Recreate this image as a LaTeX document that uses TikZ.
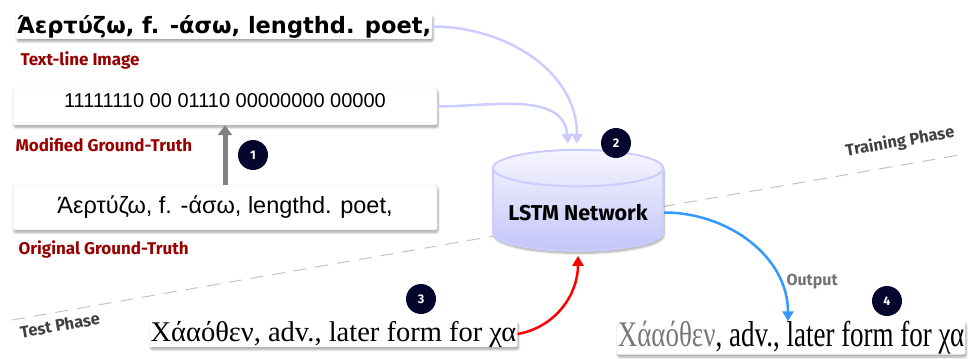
\documentclass[tikz,border=0pt]{standalone}
\usepackage{fontspec}
\setmainfont{Fira Sans}
\newfontfamily\arialfont{Liberation Sans}
\newfontfamily\timesfont{Liberation Serif}
\newfontfamily\scanfont{DejaVu Sans}
\usetikzlibrary{arrows.meta, shapes.geometric, positioning, calc, shadows.blur}

\definecolor{gtred}     {RGB}{153, 0,   0}
\definecolor{lavender}  {RGB}{204, 204, 255}
\definecolor{lstmtop}   {RGB}{246, 246, 255}
\definecolor{lstmbottom}{RGB}{196, 196, 248}
\definecolor{badgenavy} {RGB}{5,   5,   45}
\definecolor{outblue}   {RGB}{51,  153, 255}
\definecolor{phasegray} {RGB}{64,  64,  64}
\definecolor{linegray}  {RGB}{195, 195, 195}
\definecolor{scangray}  {RGB}{120, 120, 120}

\tikzset{
	softshadow/.style={blur shadow={shadow xshift=1pt, shadow yshift=-2.5pt, shadow blur steps=6, shadow opacity=35}},
	gtbox/.style={draw=black!15, fill=white, rounded corners=2pt, minimum width=424pt, softshadow},
	imgbox/.style={fill=white, rounded corners=2pt, inner sep=1pt, softshadow},
	redlabel/.style={anchor=west, text=gtred, font=\bfseries\fontsize{17}{20}\selectfont},
	phaselabel/.style={text=phasegray, rotate=10, font=\bfseries\fontsize{16.5}{19}\selectfont},
	badge/.style={circle, fill=badgenavy, text=white, minimum size=30pt, inner sep=0pt, font=\bfseries\fontsize{12.5}{14}\selectfont},
	trainarrow/.style={draw=lavender, line width=2.5pt, -{Triangle[width=11pt, length=10pt]}},
	lstmnode/.style={cylinder, shape border rotate=90, aspect=0.25, draw=lavender, line width=2pt,
		top color=lstmtop, bottom color=lstmbottom, minimum width=170pt, minimum height=101pt,
		softshadow, font=\bfseries\fontsize{21.5}{25}\selectfont}
}

\begin{document}
\begin{tikzpicture}[x=1pt, y=1pt]
	\useasboundingbox (0,0) rectangle (970,-359);
	\draw[linegray, line width=1pt, dash pattern=on 13pt off 9pt] (12,-320) -- (965,-154);
	\node[phaselabel] (train) at (900,-142) {Training Phase};
	\node[phaselabel] (test) at (60,-325) {Test Phase};

	\node[imgbox, font=\scanfont\bfseries\fontsize{22.5}{26}\selectfont] (img) at (224,-26.5) {Άερτύζω, f. -άσω, lengthd. poet,};
	\node[redlabel] (imglbl) at (17,-60) {Text-line Image};
	\node[gtbox, font=\arialfont\fontsize{20}{23}\selectfont, text height=15pt, text depth=14pt, inner ysep=4pt] (modgt) at (225,-106.5) {11111110 00 01110 00000000 00000};
	\node[redlabel] (modlbl) at (12,-145) {Modified Ground-Truth};
	\node[gtbox, font=\arialfont\fontsize{23.5}{27}\selectfont, minimum height=45pt] (orig) at (225,-207.5) {Άερτύζω, f. -άσω, lengthd. poet,};
	\node[redlabel] (origlbl) at (15,-249) {Original Ground-Truth};

	\node[lstmnode] (lstm) at (578,-212.5) {LSTM Network};

	\node[imgbox, inner ysep=0pt, font=\timesfont\fontsize{28.5}{32}\selectfont] (input) at (333.5,-334) {Χάαόθεν, adv., later form for χα};
	\node[imgbox, inner ysep=0pt, font=\timesfont\fontsize{36}{40}\selectfont] (output) at (791,-338) {\scalebox{0.75}[1]{{\color{scangray}Χάαόθεν}, adv., later form for χα}};

	\draw[gray, line width=5pt, -{Triangle[width=14pt, length=10pt]}] (orig.north) -- (modgt.south);
	\draw[trainarrow] (img.east) to[out=0, in=90] ([xshift=-1pt, yshift=5pt]lstm.north);
	\draw[trainarrow] (modgt.east) to[out=0, in=95] ([xshift=-10pt, yshift=5pt]lstm.north);
	\draw[red, line width=2.5pt, -{Triangle[width=11pt, length=10pt]}] (input.east) to[out=10, in=-90] ([yshift=-4pt]lstm.south);
	\draw[outblue, line width=2.5pt, -{Triangle[width=11pt, length=10pt]}] (lstm.east) to[out=0, in=90] node[pos=0.78, right=2pt, text=gray!90!black, font=\bfseries\fontsize{16}{18}\selectfont] (outlbl) {Output} ([xshift=-3pt]output.north);

	\node[badge] (b1) at (253,-155) {1};
	\node[badge] (b2) at (616,-143) {2};
	\node[badge] (b3) at (421,-299) {3};
	\node[badge] (b4) at (887,-301) {4};
\end{tikzpicture}
\end{document}
